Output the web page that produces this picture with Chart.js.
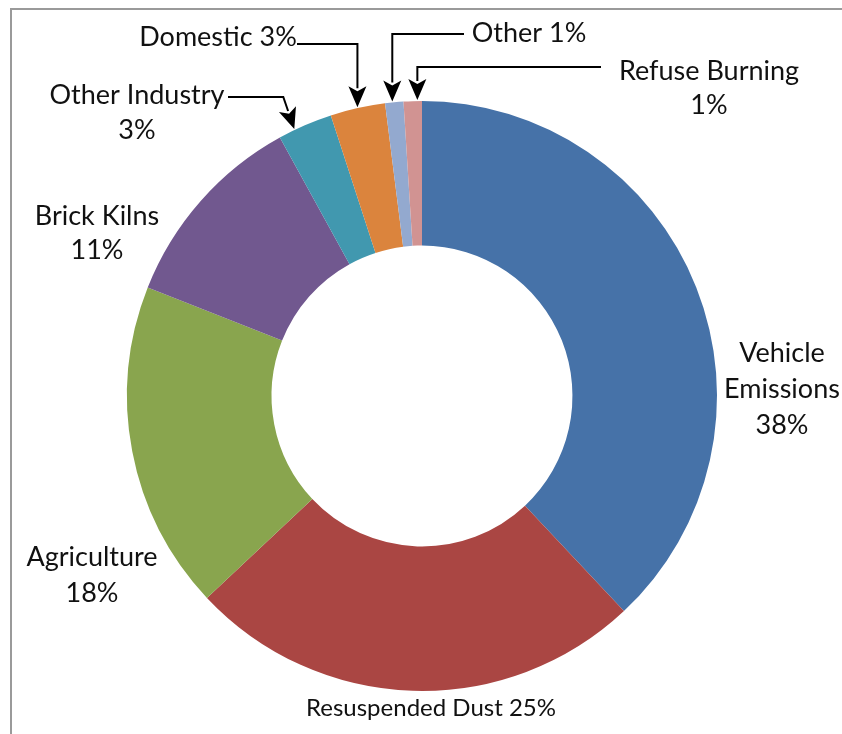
<!DOCTYPE html>
<html>
<head>
<meta charset="utf-8">
<title>Sources</title>
<script src="https://cdn.jsdelivr.net/npm/chart.js@4.4.1/dist/chart.umd.min.js"></script>
<style>
  html, body { margin: 0; padding: 0; background: #fff; }
  #wrap { width: 842px; height: 734px; }
</style>
</head>
<body>
<div id="wrap"><canvas id="chart-sources" width="842" height="734"></canvas></div>
<script>
  /* ---------- Data ---------- */

  const categories = ['Vehicle Emissions', 'Resuspended Dust', 'Agriculture', 'Brick Kilns',
    'Other Industry', 'Domestic', 'Other', 'Refuse Burning'];
  const shares = [38, 25, 18, 11, 3, 3, 1, 1];
  const sliceColors = ['#4672A8', '#AA4643', '#89A54E', '#71588F',
    '#4198AF', '#DB843D', '#93A9CF', '#D19392'];

  /* ---------- Label layout ---------- */

  const FONT = "'Lato', 'Open Sans', sans-serif";

  // {p} is replaced by the slice share
  const labelSpecs = [
    { i: 0, lines: ['Vehicle', 'Emissions', '{p}'], x: 782, y: 353, size: 27, lh: 36 },
    { i: 1, lines: ['Resuspended Dust {p}'], x: 431, y: 708, size: 24, lh: 0 },
    { i: 2, lines: ['Agriculture', '{p}'], x: 92, y: 557, size: 27, lh: 36 },
    { i: 3, lines: ['Brick Kilns', '{p}'], x: 97, y: 216, size: 27, lh: 34 },
    { i: 4, lines: ['Other Industry', '{p}'], x: 137, y: 95, size: 27, lh: 35 },
    { i: 5, lines: ['Domestic {p}'], x: 218, y: 37, size: 27, lh: 0 },
    { i: 6, lines: ['Other {p}'], x: 529, y: 33, size: 27, lh: 0 },
    { i: 7, lines: ['Refuse Burning', '{p}'], x: 709, y: 71, size: 27, lh: 34 },
  ];

  // arrows from a label to the small slices; frac = where along the slice the tip lands
  const leaders = [
    { i: 4, from: [228, 97], bend: -11, frac: 0.3 },
    { i: 5, from: [297, 44], bend: 0, frac: 0.5 },
    { i: 6, from: [464, 34], bend: 0, frac: 0.4 },
    { i: 7, from: [601, 67], bend: 0, frac: 0.75 },
  ];

  const calloutPlugin = {
    id: 'callouts',
    beforeDraw(chart) {
      const ctx = chart.ctx;
      ctx.save();
      ctx.strokeStyle = '#9a9a9a';
      ctx.lineWidth = 2;
      ctx.beginPath();
      ctx.moveTo(11, 734);
      ctx.lineTo(11, 9);
      ctx.lineTo(842, 9);
      ctx.stroke();
      ctx.restore();
    },
    afterDraw(chart) {
      const ctx = chart.ctx;
      const arcs = chart.getDatasetMeta(0).data;
      ctx.save();

      // text
      ctx.fillStyle = '#111';
      ctx.textAlign = 'center';
      ctx.textBaseline = 'middle';
      labelSpecs.forEach((s) => {
        ctx.font = s.size + 'px ' + FONT;
        s.lines.forEach((ln, k) => {
          ctx.fillText(ln.replace('{p}', shares[s.i] + '%'), s.x, s.y + k * s.lh);
        });
      });

      // leader arrows
      ctx.strokeStyle = '#000';
      ctx.fillStyle = '#000';
      ctx.lineWidth = 2;
      leaders.forEach((l) => {
        const a = arcs[l.i];
        const ang = a.startAngle + (a.endAngle - a.startAngle) * l.frac;
        const tx = a.x + Math.cos(ang) * (a.outerRadius + 1);
        const ty = a.y + Math.sin(ang) * (a.outerRadius + 1);
        const ex = tx + l.bend;
        const ey = l.from[1];
        const dx = tx - ex, dy = ty - ey;
        const len = Math.hypot(dx, dy);
        const ux = dx / len, uy = dy / len;
        const headLen = 21, headW = 9;
        const bx = tx - ux * headLen, by = ty - uy * headLen;

        ctx.beginPath();
        ctx.moveTo(l.from[0], l.from[1]);
        ctx.lineTo(ex, ey);
        ctx.lineTo(bx + ux * 2, by + uy * 2);
        ctx.stroke();

        ctx.beginPath();
        ctx.moveTo(tx, ty);
        ctx.lineTo(bx - uy * headW, by + ux * headW);
        ctx.lineTo(bx + ux * 5, by + uy * 5);
        ctx.lineTo(bx + uy * headW, by - ux * headW);
        ctx.closePath();
        ctx.fill();
      });

      ctx.restore();
    },
  };

  /* ---------- Chart ---------- */

  new Chart(document.getElementById('chart-sources'), {
    type: 'doughnut',
    data: {
      labels: categories,
      datasets: [
        {
          data: shares,
          backgroundColor: sliceColors,
          borderWidth: 0,
        },
      ],
    },
    options: {
      responsive: false,
      animation: false,
      cutout: '51%',
      layout: { padding: { left: 127, right: 125, top: 101, bottom: 43 } },
      plugins: { legend: { display: false }, tooltip: { enabled: false } },
    },
    plugins: [calloutPlugin],
  });
</script>
</body>
</html>
